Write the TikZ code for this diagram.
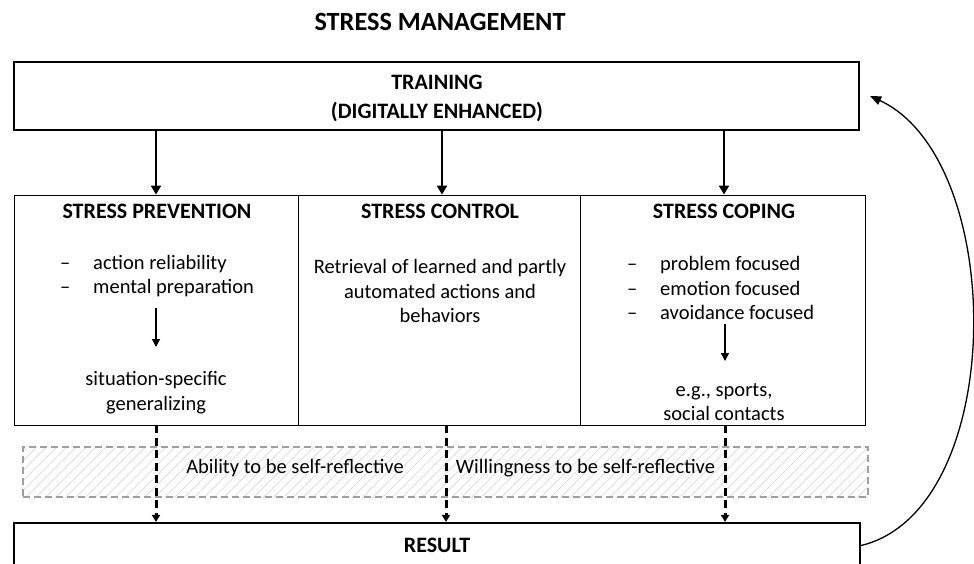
\documentclass[tikz,border=0pt]{standalone}
\usepackage{fontspec}
\setmainfont{Carlito}
\usetikzlibrary{arrows.meta,patterns.meta}

\newcommand{\pitem}[2]{\makebox[#1][l]{--}#2}

\tikzset{
  bigbox/.style={draw, line width=2.2pt, minimum width=845pt, inner sep=0pt, align=center,
    font=\bfseries\fontsize{22}{29}\selectfont},
  colbox/.style={draw, line width=0.9pt, minimum height=230pt, inner sep=0pt},
  reflbox/.style={draw=gray!75, line width=1.4pt, dash pattern=on 7pt off 4pt,
    pattern={Lines[angle=45,distance=7pt,line width=0.7pt]}, pattern color=gray!30,
    minimum width=845pt, minimum height=50pt, inner sep=0pt},
  heading/.style={font=\bfseries\fontsize{22}{29}\selectfont, inner sep=0pt, align=center},
  title/.style={font=\bfseries\fontsize{26.3}{30}\selectfont, inner sep=0pt},
  txt/.style={font=\fontsize{20.5}{24.8}\selectfont, inner sep=0pt},
  flow/.style={line width=2.2pt, -{Triangle[width=10pt,length=9pt]}},
  small/.style={line width=1.4pt, -{Triangle[width=8pt,length=8pt]}},
  dflow/.style={line width=3pt, dash pattern=on 8pt off 4.5pt, -{Triangle[width=8pt,length=7pt]}},
  back/.style={line width=1.3pt, -{Triangle[width=9pt,length=11pt]}}
}

\begin{document}
\begin{tikzpicture}[x=1pt,y=-1pt]
  \useasboundingbox (0,0) rectangle (974,563);

  % Title and training box
  \node[title] (title) at (440,21.5) {STRESS MANAGEMENT};
  \node[bigbox, minimum height=68pt] (train) at (436.5,96) {};
  \node[heading] (traintxt) at (437,98.5) {TRAINING\\(DIGITALLY ENHANCED)};

  % The three columns
  \node[colbox, minimum width=284pt] (prev) at (156,310) {};
  \node[colbox, minimum width=282pt] (ctrl) at (439,310) {};
  \node[colbox, minimum width=285pt] (cope) at (722.5,310) {};

  \node[heading] (prevhd) at (157,211) {STRESS PREVENTION};
  \node[heading] (ctrlhd) at (440,211) {STRESS CONTROL};
  \node[heading] (copehd) at (724,211) {STRESS COPING};

  % Stress prevention
  \node[txt, align=left, anchor=west] (prevlist) at (60,276)
    {\pitem{33pt}{action reliability}\\\pitem{33pt}{mental preparation}};
  \node[txt, align=center] (prevout) at (156,393) {situation-specific\\generalizing};
  \draw[small] (156,308) -- (156,347);

  % Stress control
  \node[txt, align=center] (ctrltxt) at (440,291)
    {Retrieval of learned and partly\\automated actions and\\behaviors};

  % Stress coping
  \node[txt, align=left, anchor=west] (copelist) at (627,288)
    {\pitem{33pt}{problem focused}\\\pitem{33pt}{emotion focused}\\\pitem{33pt}{avoidance focused}};
  \node[txt, align=center] (copeout) at (724,402) {e.g., sports,\\social contacts};
  \draw[small] (725,324) -- (725,361);

  % Arrows from training
  \draw[flow] (train.south -| prev.north) -- (prev.north);
  \draw[flow] ([xshift=3pt]train.south -| ctrl.north) -- ([xshift=3pt]ctrl.north);
  \draw[flow] ([xshift=1.5pt]train.south -| cope.north) -- ([xshift=1.5pt]cope.north);

  % Self-reflection band
  \node[reflbox] (refl) at (445.5,472) {};
  \node[txt] (ability) at (295,468) {Ability to be self-reflective};
  \node[txt] (willing) at (585.5,468) {Willingness to be self-reflective};

  % Result box
  \node[bigbox, minimum width=846pt, minimum height=45pt] (result) at (437,545.5) {RESULT};

  % Dashed arrows into result
  \draw[dflow] (prev.south) -- (prev.south |- result.north);
  \draw[dflow] ([xshift=7pt]ctrl.south) -- ([xshift=7pt]ctrl.south |- result.north);
  \draw[dflow] ([xshift=2.5pt]cope.south) -- ([xshift=2.5pt]cope.south |- result.north);

  % Feedback loop
  \draw[back] (result.east) .. controls (1008,510) and (1008,160) .. ([xshift=10pt]train.east);
\end{tikzpicture}
\end{document}
